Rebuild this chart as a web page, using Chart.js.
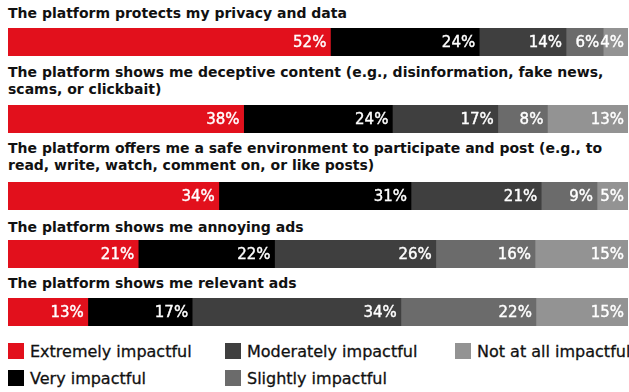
<!DOCTYPE html>
<html>
<head>
<meta charset="utf-8">
<script src="https://cdn.jsdelivr.net/npm/chart.js@4"></script>
<style>
  body { margin: 0; width: 629px; height: 392px; background: #fff; position: relative; overflow: hidden; }
  .title { position: absolute; left: 8px; font: bold 14px "DejaVu Sans", sans-serif; line-height: 17px; color: #111; white-space: nowrap; }
  .bar { position: absolute; left: 8px; width: 620px; height: 28px; }
  .key { position: absolute; font: 16px "DejaVu Sans", sans-serif; line-height: 17px; color: #111; white-space: nowrap; -webkit-text-stroke: 0.3px #111; }
  .key i { display: inline-block; width: 16px; height: 16px; vertical-align: -2px; margin-right: 6px; }
</style>
</head>
<body>
<script>
  const questions = [
    "The platform protects my privacy and data",
    "The platform shows me deceptive content (e.g., disinformation, fake news,\nscams, or clickbait)",
    "The platform offers me a safe environment to participate and post (e.g., to\nread, write, watch, comment on, or like posts)",
    "The platform shows me annoying ads",
    "The platform shows me relevant ads",
  ];
  const seriesNames = ["Extremely impactful", "Very impactful", "Moderately impactful", "Slightly impactful", "Not at all impactful"];
  const extremely = [52, 38, 34, 21, 13];
  const very = [24, 24, 31, 22, 17];
  const moderately = [14, 17, 21, 26, 34];
  const slightly = [6, 8, 9, 16, 22];
  const notAtAll = [4, 13, 5, 15, 15];

  const colors = ["#e2101c", "#000000", "#3f3f3f", "#6b6b6b", "#939393"];
  const series = [extremely, very, moderately, slightly, notAtAll];

  // layout of the rows (title top, bar top)
  const titleTops = [5, 64, 140, 219, 275];
  const barTops = [28, 105, 182, 240, 298];

  const pctLabels = {
    id: "pctLabels",
    afterDatasetsDraw(chart) {
      const ctx = chart.ctx;
      ctx.save();
      ctx.font = '15px "DejaVu Sans", sans-serif';
      ctx.fillStyle = "#fff";
      ctx.strokeStyle = "#fff";
      ctx.lineWidth = 0.4;
      ctx.textAlign = "right";
      ctx.textBaseline = "middle";
      chart.data.datasets.forEach((ds, i) => {
        chart.getDatasetMeta(i).data.forEach((el, j) => {
          const txt = ds.data[j] + "%";
          ctx.fillText(txt, el.x - 4, el.y + 1);
          ctx.strokeText(txt, el.x - 4, el.y + 1);
        });
      });
      ctx.restore();
    },
  };

  questions.forEach((q, row) => {
    const t = document.createElement("div");
    t.className = "title";
    t.style.top = titleTops[row] + "px";
    t.innerHTML = q.replace("\n", "<br>");
    document.body.appendChild(t);

    const wrap = document.createElement("div");
    wrap.className = "bar";
    wrap.style.top = barTops[row] + "px";
    const canvas = document.createElement("canvas");
    wrap.appendChild(canvas);
    document.body.appendChild(wrap);

    const values = series.map((s) => s[row]);
    const total = values.reduce((a, b) => a + b, 0);

    new Chart(canvas, {
      type: "bar",
      data: {
        labels: [q],
        datasets: series.map((s, i) => ({
          label: seriesNames[i],
          data: [s[row]],
          backgroundColor: colors[i],
          borderWidth: 0,
          barPercentage: 1,
          categoryPercentage: 1,
        })),
      },
      options: {
        indexAxis: "y",
        responsive: true,
        maintainAspectRatio: false,
        animation: false,
        layout: { padding: 0 },
        plugins: { legend: { display: false }, tooltip: { enabled: false } },
        scales: {
          x: { stacked: true, display: false, min: 0, max: total },
          y: { stacked: true, display: false },
        },
      },
      plugins: [pctLabels],
    });
  });

  // legend, three columns
  const keyPos = [[8, 343], [8, 370], [225, 343], [225, 370], [455, 343]];
  seriesNames.forEach((name, i) => {
    const k = document.createElement("div");
    k.className = "key";
    k.style.left = keyPos[i][0] + "px";
    k.style.top = keyPos[i][1] + "px";
    k.innerHTML = '<i style="background:' + colors[i] + '"></i>' + name;
    document.body.appendChild(k);
  });
</script>
</body>
</html>
